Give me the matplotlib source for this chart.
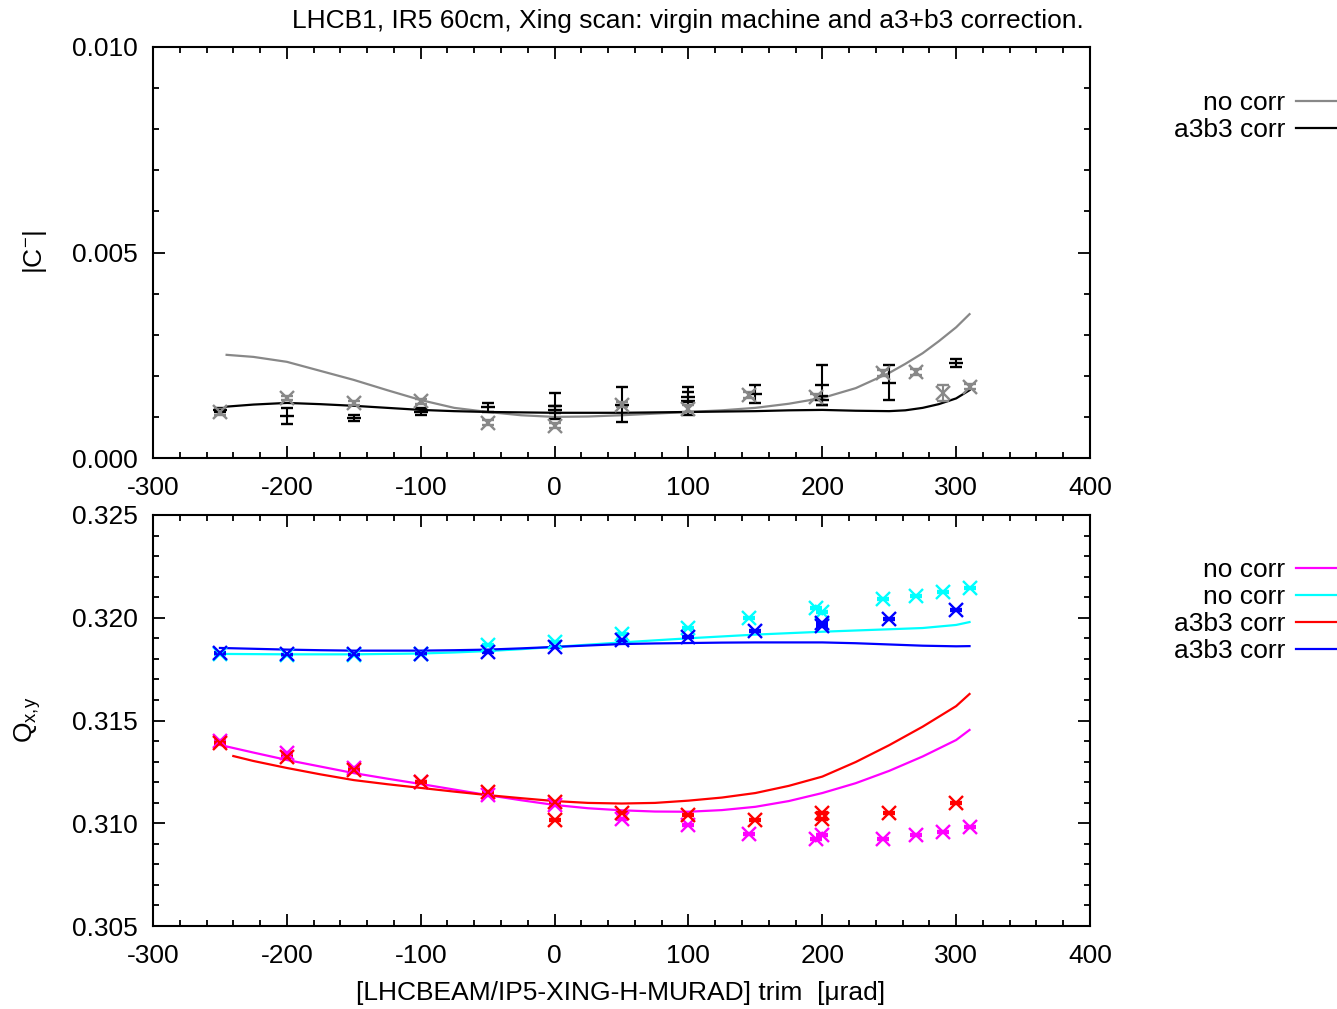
import matplotlib
matplotlib.use("Agg")
import matplotlib.pyplot as plt
from matplotlib.ticker import MultipleLocator, FormatStrFormatter

plt.rcParams['font.family'] = ['Liberation Sans', 'DejaVu Sans']
plt.rcParams['mathtext.fontset'] = 'custom'
plt.rcParams['mathtext.rm'] = 'Liberation Sans'
plt.rcParams['mathtext.it'] = 'Liberation Sans'
plt.rcParams['axes.unicode_minus'] = False

# ---- top panel: |C-| ----
# measured points, no correction (gray)
c_nocorr_x = [-250, -200, -150, -100, -50, 0, 50, 100, 145, 195, 245, 270, 290, 310]
c_nocorr_y = [0.00112, 0.00146, 0.00134, 0.00138, 0.00086, 0.00079, 0.00130, 0.00120,
              0.00153, 0.00148, 0.00207, 0.00210, 0.00158, 0.00173]
c_nocorr_err = [0.00008, 0.00005, 0.00005, 0.00006, 0.00006, 0.00007, 0.00007, 0.00008,
                0.00007, 0.00008, 0.00008, 0.00007, 0.00020, 0.00006]
# measured points, a3b3 correction (black)
c_corr_x = [-250, -200, -150, -100, -50, 0, 0, 50, 100, 100, 150, 200, 200, 250, 300]
c_corr_y = [0.00117, 0.00102, 0.00097, 0.00113, 0.00124, 0.00127, 0.00118, 0.00130, 0.00139,
            0.00148, 0.00156, 0.00178, 0.00140, 0.00183, 0.00231]
c_corr_err = [0.00005, 0.00020, 0.00007, 0.00008, 0.00011, 0.00032, 0.00008, 0.00043, 0.00034,
              0.00012, 0.00022, 0.00049, 0.00010, 0.00043, 0.00009]
# fit curves
fit_c_x = [-245, -225, -200, -175, -150, -125, -100, -75, -50, -25, 0, 25, 50, 75, 100,
           125, 150, 175, 200, 225, 250, 262, 275, 287, 300, 310]
fit_c_nocorr = [0.00251, 0.00246, 0.00234, 0.00212, 0.00190, 0.00165, 0.00141, 0.00122,
                0.00112, 0.00104, 0.00100, 0.00101, 0.00104, 0.00108, 0.00112, 0.00116,
                0.00122, 0.00132, 0.00146, 0.00170, 0.00207, 0.00229, 0.00255, 0.00284,
                0.00318, 0.00350]
fit_c_corr = [0.00125, 0.00130, 0.00134, 0.00131, 0.00127, 0.00122, 0.00117, 0.00114,
              0.00112, 0.00111, 0.00110, 0.00110, 0.00110, 0.00111, 0.00112, 0.00113,
              0.00114, 0.00116, 0.00117, 0.00115, 0.00114, 0.00116, 0.00122, 0.00131,
              0.00145, 0.00165]

# ---- bottom panel: tunes ----
qx_nocorr_x = [-250, -200, -150, -100, -50, 0, 50, 100, 145, 195, 200, 245, 270, 290, 310]
qx_nocorr_y = [0.31400, 0.31342, 0.31269, 0.31201, 0.31137, 0.31089, 0.31020, 0.30992,
               0.30948, 0.30923, 0.30943, 0.30923, 0.30943, 0.30957, 0.30982]
qy_nocorr_x = [-250, -200, -150, -100, -50, 0, 50, 100, 145, 195, 200, 245, 270, 290, 310]
qy_nocorr_y = [0.31824, 0.31820, 0.31820, 0.31824, 0.31867, 0.31882, 0.31921, 0.31950,
               0.31999, 0.32047, 0.32028, 0.32091, 0.32106, 0.32125, 0.32145]
qx_corr_x = [-250, -200, -150, -100, -50, 0, 0, 50, 100, 150, 200, 200, 250, 300]
qx_corr_y = [0.31390, 0.31322, 0.31259, 0.31201, 0.31152, 0.31103, 0.31016, 0.31050,
             0.31040, 0.31016, 0.31050, 0.31022, 0.31050, 0.31099]
qy_corr_x = [-250, -200, -150, -100, -50, 0, 50, 100, 150, 200, 200, 250, 300]
qy_corr_y = [0.31827, 0.31822, 0.31822, 0.31826, 0.31832, 0.31858, 0.31892, 0.31906,
             0.31936, 0.31975, 0.31960, 0.31994, 0.32038]
q_err = 0.00004

fit_q_x = [-250, -225, -200, -175, -150, -125, -100, -75, -50, -25, 0, 25, 50, 75, 100,
           125, 150, 175, 200, 225, 250, 275, 300, 310]
fit_qx_nocorr = [0.31381, 0.31344, 0.31308, 0.31276, 0.31244, 0.31217, 0.31191, 0.31164,
                 0.31137, 0.31112, 0.31089, 0.31073, 0.31063, 0.31057, 0.31056, 0.31064,
                 0.31080, 0.31108, 0.31147, 0.31195, 0.31255, 0.31325, 0.31405, 0.31454]
fit_qx_corr_x = [-240, -225, -200, -175, -150, -125, -100, -75, -50, -25, 0, 25, 50, 75,
                 100, 125, 150, 175, 200, 225, 250, 275, 300, 310]
fit_qx_corr = [0.31327, 0.31303, 0.31269, 0.31238, 0.31210, 0.31190, 0.31172, 0.31154,
               0.31137, 0.31122, 0.31108, 0.31099, 0.31096, 0.31099, 0.31110, 0.31125,
               0.31147, 0.31182, 0.31227, 0.31298, 0.31380, 0.31470, 0.31570, 0.31629]
fit_qy_nocorr = [0.31824, 0.31823, 0.31822, 0.31822, 0.31822, 0.31824, 0.31826, 0.31831,
                 0.31838, 0.31847, 0.31858, 0.31869, 0.31880, 0.31890, 0.31900, 0.31909,
                 0.31918, 0.31925, 0.31932, 0.31938, 0.31944, 0.31950, 0.31965, 0.31979]
fit_qy_corr = [0.31853, 0.31849, 0.31845, 0.31842, 0.31840, 0.31840, 0.31840, 0.31842,
               0.31845, 0.31851, 0.31858, 0.31865, 0.31872, 0.31875, 0.31877, 0.31879,
               0.31880, 0.31880, 0.31880, 0.31876, 0.31870, 0.31864, 0.31861, 0.31862]

W, H = 1337, 1009
FS = 19
fig = plt.figure(figsize=(W / 100, H / 100), dpi=100)

def px_axes(l, t, r, b):
    return fig.add_axes([l / W, 1 - b / H, (r - l) / W, (b - t) / H])

ax1 = px_axes(153, 47, 1090, 458)
ax2 = px_axes(153, 515, 1090, 926)

GRAY = '#888888'
ekw = dict(markersize=10, markeredgewidth=1.7, elinewidth=1.5, capsize=4.5, capthick=1.5)

ax1.plot(fit_c_x, fit_c_nocorr, color=GRAY, lw=1.6, label='no corr')
ax1.plot(fit_c_x, fit_c_corr, color='black', lw=1.6, label='a3b3 corr')
ax1.errorbar(c_corr_x, c_corr_y, yerr=c_corr_err, fmt='_', color='black', **ekw)
ax1.errorbar(c_nocorr_x, c_nocorr_y, yerr=c_nocorr_err, fmt='x', color=GRAY, **ekw)
ax1.set_ylim(0, 0.010)
ax1.yaxis.set_major_locator(MultipleLocator(0.005))
ax1.yaxis.set_minor_locator(MultipleLocator(0.001))
ax1.yaxis.set_major_formatter(FormatStrFormatter('%.3f'))

ax2.plot(fit_q_x, fit_qx_nocorr, color='#ff00ff', lw=1.6, label='no corr')
ax2.plot(fit_q_x, fit_qy_nocorr, color='#00ffff', lw=1.6, label='no corr')
ax2.plot(fit_qx_corr_x, fit_qx_corr, color='#ff0000', lw=1.6, label='a3b3 corr')
ax2.plot(fit_q_x, fit_qy_corr, color='#0000ff', lw=1.6, label='a3b3 corr')
ax2.errorbar(qx_nocorr_x, qx_nocorr_y, yerr=q_err, fmt='x', color='#ff00ff', **ekw)
ax2.errorbar(qy_nocorr_x, qy_nocorr_y, yerr=q_err, fmt='x', color='#00ffff', **ekw)
ax2.errorbar(qx_corr_x, qx_corr_y, yerr=q_err, fmt='x', color='#ff0000', **ekw)
ax2.errorbar(qy_corr_x, qy_corr_y, yerr=q_err, fmt='x', color='#0000ff', **ekw)
ax2.set_ylim(0.305, 0.325)
ax2.yaxis.set_major_locator(MultipleLocator(0.005))
ax2.yaxis.set_minor_locator(MultipleLocator(0.001))
ax2.yaxis.set_major_formatter(FormatStrFormatter('%.3f'))

for ax in (ax1, ax2):
    ax.set_xlim(-300, 400)
    ax.xaxis.set_major_locator(MultipleLocator(100))
    ax.xaxis.set_minor_locator(MultipleLocator(20))
    ax.tick_params(which='both', direction='in', top=True, right=True, width=1.3)
    ax.tick_params(which='major', length=8.5, labelsize=FS)
    ax.tick_params(axis='x', which='major', pad=13)
    ax.tick_params(axis='y', which='major', pad=11)
    ax.tick_params(which='minor', length=4.5)
    for s in ax.spines.values():
        s.set_linewidth(1.5)

leg_kw = dict(frameon=False, markerfirst=False, fontsize=FS, handlelength=1.55,
              handletextpad=0.4, labelspacing=0.12, borderaxespad=0, borderpad=0)
fig.legend(handles=ax1.get_lines()[:2], loc='upper right',
           bbox_to_anchor=(1337 / W, 1 - 91 / H), **leg_kw)
fig.legend(handles=ax2.get_lines()[:4], loc='upper right',
           bbox_to_anchor=(1337 / W, 1 - 558 / H), **leg_kw)

fig.text(688 / W, 1 - 21 / H, 'LHCB1, IR5 60cm, Xing scan: virgin machine and a3+b3 correction.',
         ha='center', va='center', fontsize=FS)
fig.text(621 / W, 1 - 993 / H, '[LHCBEAM/IP5-XING-H-MURAD] trim  [\u03bcrad]',
         ha='center', va='center', fontsize=FS)
fig.text(35 / W, 1 - 252 / H, r'$\mathrm{|C^{-}|}$', rotation=90, ha='center', va='center',
         fontsize=FS)
fig.text(28 / W, 1 - 720 / H, r'$\mathrm{Q_{x{,}y}}$', rotation=90, ha='center', va='center',
         fontsize=FS)

fig.savefig('out.png', dpi=100)
